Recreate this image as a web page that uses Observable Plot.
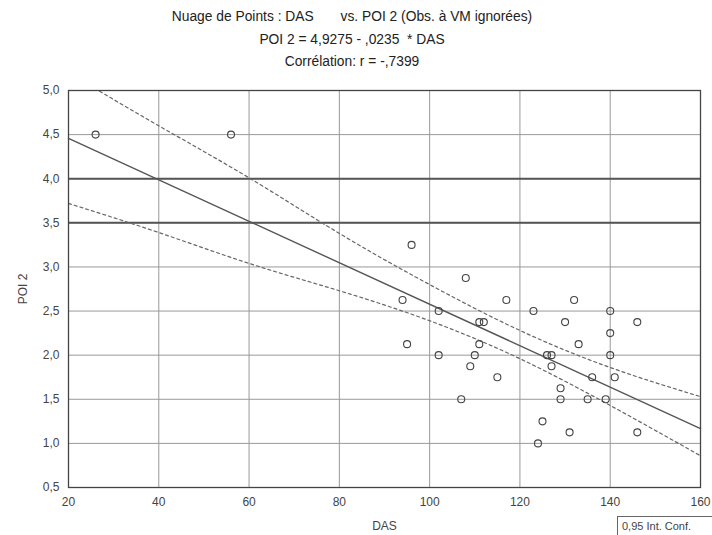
<!DOCTYPE html>
<html>
<head>
<meta charset="utf-8">
<script src="https://cdn.jsdelivr.net/npm/d3@7"></script>
<script src="https://cdn.jsdelivr.net/npm/@observablehq/plot@0.6"></script>
<style>
  html, body { margin: 0; padding: 0; background: #fff; }
  #wrap { position: relative; width: 712px; height: 535px; overflow: hidden; font-family: "Liberation Sans", Arial, sans-serif; }
  #title { width: 704px; height: 80px; box-sizing: border-box; padding-top: 6px; text-align: center; font-size: 13.8px; line-height: 22.5px; color: #222; }
  #legendBox { position: absolute; left: 617px; top: 516px; width: 120px; height: 40px; border-left: 1px solid #666; border-top: 1px solid #666; box-sizing: border-box; padding: 3px 0 0 4px; font-size: 11px; color: #444; white-space: nowrap; }
</style>
</head>
<body>
<div id="wrap">
  <div id="title">
    <div>Nuage de Points : DAS&nbsp;&nbsp;&nbsp;&nbsp;&nbsp;&nbsp; vs. POI 2 (Obs. à VM ignorées)</div>
    <div>POI 2 = 4,9275 - ,0235&nbsp; * DAS</div>
    <div>Corrélation: r = -,7399</div>
  </div>
  <div id="chart"></div>
  <div id="legendBox">0,95 Int. Conf.</div>
</div>
<script>
// Observations (DAS, POI 2)
const das = [26, 56, 96, 108, 94, 117, 132, 102, 123, 140, 111, 112, 130, 146, 140, 95, 111, 133, 102, 110, 126, 127, 140, 109, 127, 115, 136, 141, 129, 107, 129, 135, 139, 125, 131, 146, 124];
const poi = [4.5, 4.5, 3.25, 2.875, 2.625, 2.625, 2.625, 2.5, 2.5, 2.5, 2.375, 2.375, 2.375, 2.375, 2.25, 2.125, 2.125, 2.125, 2.0, 2.0, 2.0, 2.0, 2.0, 1.875, 1.875, 1.75, 1.75, 1.75, 1.625, 1.5, 1.5, 1.5, 1.5, 1.25, 1.125, 1.125, 1.0];

// Regression (from the title)
const fitIntercept = 4.9275;
const fitSlope = -0.0235;
const fitX = [20, 160];

// 95% confidence band
const bandX = [20, 40, 60, 80, 100, 120, 140, 160];
const bandUpper = [5.20, 4.60, 4.01, 3.38, 2.80, 2.28, 1.86, 1.53];
const bandLower = [3.72, 3.39, 3.04, 2.73, 2.39, 1.96, 1.43, 0.86];

// Axis ticks
const xTicks = [20, 40, 60, 80, 100, 120, 140, 160];
const yTicks = [0.5, 1.0, 1.5, 2.0, 2.5, 3.0, 3.5, 4.0, 4.5, 5.0];
const darkGrid = [3.5, 4.0];

const points = das.map((d, i) => ({x: d, y: poi[i]}));
const fit = fitX.map(x => ({x, y: fitIntercept + fitSlope * x}));
const upper = bandX.map((x, i) => ({x, y: bandUpper[i]}));
const lower = bandX.map((x, i) => ({x, y: bandLower[i]}));
const fmt = d => d.toFixed(1).replace(".", ",");

const chart = Plot.plot({
  width: 712,
  height: 455,
  marginLeft: 68,
  marginRight: 12,
  marginTop: 10,
  marginBottom: 48,
  style: {fontFamily: "'Liberation Sans', Arial, sans-serif", fontSize: "12px", color: "#444", background: "#fff"},
  x: {domain: [20, 160], ticks: xTicks, tickFormat: d => String(d), tickSize: 0, tickPadding: 10, label: "DAS", labelAnchor: "center", labelArrow: "none", labelOffset: 42},
  y: {domain: [0.5, 5], ticks: yTicks, tickFormat: fmt, tickSize: 0, tickPadding: 9, label: "POI 2", labelAnchor: "center", labelArrow: "none", labelOffset: 50},
  marks: [
    Plot.gridX(xTicks, {stroke: "#999", strokeOpacity: 1}),
    Plot.gridY(yTicks, {stroke: "#999", strokeOpacity: 1}),
    Plot.ruleY(darkGrid, {stroke: "#555", strokeWidth: 2}),
    Plot.line(upper, {x: "x", y: "y", curve: "natural", stroke: "#666", strokeWidth: 1.2, strokeDasharray: "3,3", clip: true}),
    Plot.line(lower, {x: "x", y: "y", curve: "natural", stroke: "#666", strokeWidth: 1.2, strokeDasharray: "3,3", clip: true}),
    Plot.line(fit, {x: "x", y: "y", stroke: "#555", strokeWidth: 1.4}),
    Plot.dot(points, {x: "x", y: "y", r: 3.5, stroke: "#444", strokeWidth: 1.1, fill: "none"}),
    Plot.frame({stroke: "#444", strokeWidth: 1.3})
  ]
});
document.getElementById("chart").appendChild(chart);
</script>
</body>
</html>
